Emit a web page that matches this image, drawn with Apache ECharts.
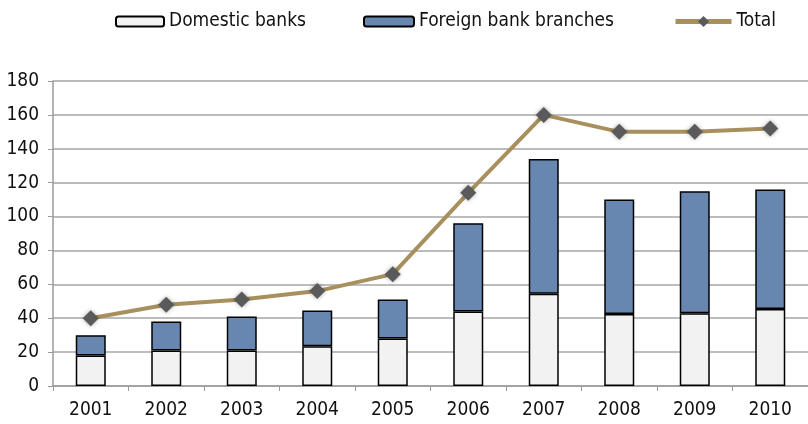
<!DOCTYPE html>
<html>
<head>
<meta charset="utf-8">
<script src="https://cdn.jsdelivr.net/npm/echarts@6/dist/echarts.min.js"></script>
<style>
  html, body { margin: 0; padding: 0; background: #fff; }
  #chart { width: 808px; height: 424px; }
</style>
</head>
<body>
<div id="chart"></div>
<script>
const years = ["2001", "2002", "2003", "2004", "2005", "2006", "2007", "2008", "2009", "2010"];
const domesticBanks = [18, 21, 21, 23.5, 28, 44, 54.5, 42.5, 43, 45.5];
const foreignBranches = [12, 17, 20, 21, 23, 52, 79.5, 67.5, 72, 70.5];
const total = [40, 48, 51, 56, 66, 114, 160, 150, 150, 152];

// condensed face via the canvas font shorthand (font-stretch slot)
const font = "'DejaVu Sans', sans-serif";
const narrow = "condensed";
const legendText = { fontFamily: font, fontWeight: narrow, fontSize: 19, color: "#111" };

const chart = echarts.init(document.getElementById("chart"), null, { renderer: "canvas" });

chart.setOption({
  animation: false,
  legend: [
    {
      data: ["Domestic banks"], left: 110, top: 7,
      itemWidth: 48, itemHeight: 10, textStyle: legendText
    },
    {
      data: ["Foreign bank branches"], left: 358, top: 7,
      itemWidth: 50, itemHeight: 10, textStyle: legendText
    },
    {
      data: ["Total"], left: 668, top: 7,
      itemWidth: 56, itemHeight: 14, itemGap: 3, textStyle: legendText,
      lineStyle: { width: 5, color: "#a8905e" }
    }
  ],
  grid: { left: 53, top: 81, width: 760, bottom: 38, containLabel: false },
  xAxis: {
    type: "category",
    data: years,
    axisLine: { lineStyle: { color: "#9a9a9a", width: 1.5 } },
    axisTick: { show: true, length: 5, lineStyle: { color: "#9a9a9a" } },
    axisLabel: { fontFamily: font, fontWeight: narrow, fontSize: 19, color: "#111", margin: 15 }
  },
  yAxis: {
    type: "value",
    min: 0,
    max: 180,
    interval: 20,
    axisLine: { show: true, lineStyle: { color: "#9a9a9a", width: 1.5 } },
    axisTick: { show: true, length: 5, lineStyle: { color: "#9a9a9a" } },
    axisLabel: { fontFamily: font, fontWeight: narrow, fontSize: 19, color: "#111", margin: 14 },
    splitLine: { lineStyle: { color: "#a6a6a6", width: 1.5 } }
  },
  series: [
    {
      name: "Domestic banks",
      type: "bar",
      stack: "banks",
      data: domesticBanks,
      barWidth: 30,
      itemStyle: { color: "#f2f2f2", borderColor: "#000", borderWidth: 1.5 }
    },
    {
      name: "Foreign bank branches",
      type: "bar",
      stack: "banks",
      data: foreignBranches,
      barWidth: 30,
      itemStyle: { color: "#6787b0", borderColor: "#000", borderWidth: 1.5 }
    },
    {
      name: "Total",
      type: "line",
      data: total,
      symbol: "diamond",
      symbolSize: 16,
      lineStyle: { color: "#a8905e", width: 4 },
      itemStyle: {
        color: "#5a5a5a",
        borderWidth: 0,
        shadowColor: "rgba(0,0,0,0.35)",
        shadowBlur: 4
      },
      z: 5
    }
  ]
});
</script>
</body>
</html>
